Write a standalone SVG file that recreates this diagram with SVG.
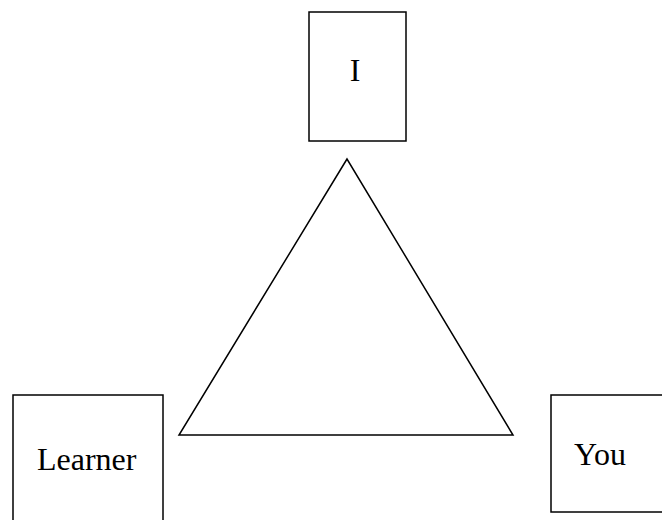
<svg xmlns="http://www.w3.org/2000/svg" width="662" height="520" viewBox="0 0 662 520">
  <style>
    .box { fill: #ffffff; stroke: #000000; stroke-width: 1.5; }
    .tri { fill: none; stroke: #000000; stroke-width: 1.5; stroke-linejoin: miter; }
    .label { font-family: "Liberation Serif", "Times New Roman", serif; font-size: 32px; fill: #000000; }
  </style>
  <rect width="662" height="520" fill="#ffffff"/>

  <!-- central triangle -->
  <g id="connectors">
    <polygon class="tri" points="347,159 179,435 513,435"/>
  </g>

  <g id="node-i">
    <rect class="box" x="309" y="12" width="97" height="129"/>
    <text class="label" x="355" y="81" text-anchor="middle">I</text>
  </g>

  <g id="node-learner">
    <rect class="box" x="13" y="395" width="150" height="135"/>
    <text class="label" x="37" y="470">Learner</text>
  </g>

  <g id="node-you">
    <rect class="box" x="551" y="395" width="120" height="117"/>
    <text class="label" x="574" y="465">You</text>
  </g>
</svg>
